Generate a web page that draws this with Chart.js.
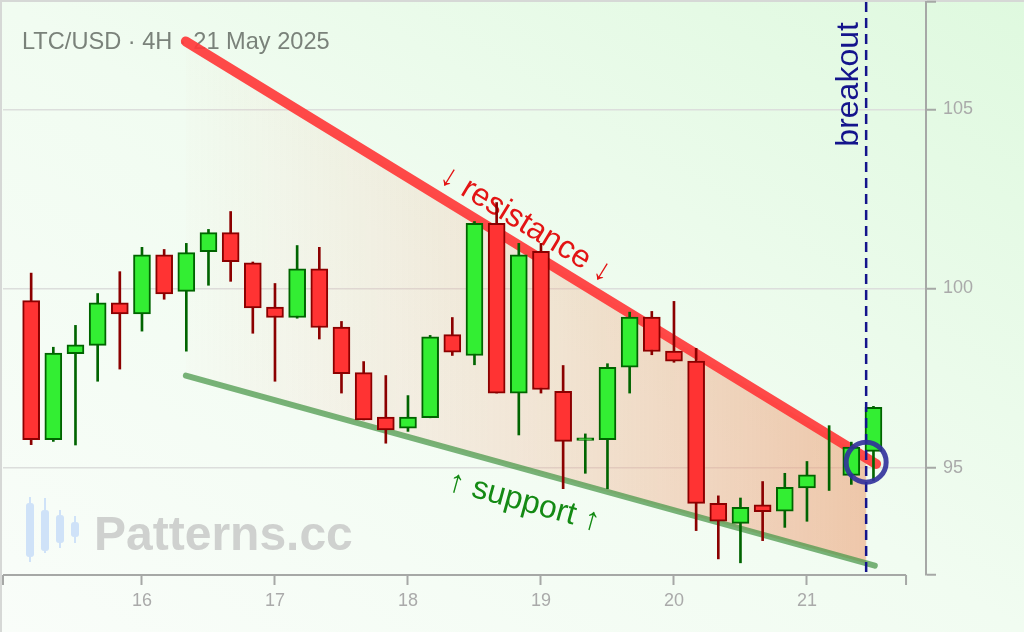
<!DOCTYPE html>
<html><head><meta charset="utf-8">
<script src="https://cdn.jsdelivr.net/npm/chart.js@4.4.1/dist/chart.umd.min.js"></script>
<style>
html,body{margin:0;padding:0;background:#fff;}
#wrap{position:relative;width:1024px;height:632px;background:linear-gradient(to top right,#f9fdf9 0%,#f1fcf1 50%,#dff9df 100%);box-shadow:inset 2px 2px 0 #d6d8d6;}
canvas{position:absolute;left:0;top:0;}
</style></head>
<body><div id="wrap"><canvas id="c" width="1024" height="632" style="width:1024px;height:632px"></canvas></div>
<script>
const candleTimes = [
 '15 04:00','15 08:00','15 12:00','15 16:00','15 20:00',
 '16 00:00','16 04:00','16 08:00','16 12:00','16 16:00','16 20:00',
 '17 00:00','17 04:00','17 08:00','17 12:00','17 16:00','17 20:00',
 '18 00:00','18 04:00','18 08:00','18 12:00','18 16:00','18 20:00',
 '19 00:00','19 04:00','19 08:00','19 12:00','19 16:00','19 20:00',
 '20 00:00','20 04:00','20 08:00','20 12:00','20 16:00','20 20:00',
 '21 00:00','21 04:00','21 08:00','21 12:00'];
const opens  = [99.66,95.78,98.18,98.41,99.60,99.29,100.94,99.92,101.03,101.56,100.72,99.48,99.19,100.55,98.92,97.65,96.41,96.10,96.39,98.71,98.13,101.82,97.08,101.04,97.13,95.76,95.78,97.80,99.20,98.25,97.97,94.00,93.44,93.96,93.78,94.43,94.85,94.78,95.45];
const highs  = [100.43,98.36,98.97,99.86,100.47,101.15,101.09,101.26,101.65,102.15,100.74,100.14,101.20,101.15,99.08,97.96,97.57,97.01,98.69,99.19,101.87,102.40,101.26,101.26,97.85,95.94,97.90,99.34,99.36,99.64,98.33,94.21,94.15,94.61,94.84,95.17,96.17,95.71,96.71];
const lows   = [95.64,95.73,95.63,97.41,97.75,98.81,99.70,98.25,100.09,100.20,98.75,97.41,99.17,98.59,97.08,96.33,95.68,96.01,96.39,98.13,97.87,97.08,95.91,97.08,94.41,94.84,94.41,97.08,98.15,97.94,93.24,92.45,92.34,92.96,93.33,93.50,94.36,94.53,94.64];
const closes = [95.78,98.20,98.43,99.60,99.29,100.94,99.85,101.00,101.56,100.75,99.46,99.19,100.55,98.91,97.62,96.33,96.05,96.41,98.65,98.22,101.82,97.08,100.94,97.18,95.73,95.83,97.80,99.20,98.24,97.97,94.00,93.50,93.89,93.77,94.45,94.80,94.85,95.57,96.68];

const xTickValues = [16,17,18,19,20,21];
const yTickValues = [92,95,100,105,108];
const yLabelValues = [95,100,105];
const xRange = [14.955, 21.895];
const yRange = [92, 108];
const xAxisEnd = 21.745;

const resistanceX = [16.33, 21.52];
const resistanceY = [106.90, 95.10];
const supportX = [16.33, 21.51];
const supportY = [97.57, 92.26];
const breakoutX = [21.445, 21.445];
const breakoutY = [108, 92];
const breakoutPoint = [{x:21.445, y:95.15}];

const titleText = 'LTC/USD · 4H · 21 May 2025';
const resistanceLabel = '↓ resistance ↓';
const supportLabel = '↑ support ↑';
const breakoutLabel = 'breakout';
const resistanceLabelPos = {x:18.887, y:101.79};
const supportLabelPos = {x:18.872, y:94.04};
const breakoutLabelPos = {x:21.34, y:105.7};

const FONT = '"Liberation Sans", Arial, Helvetica, sans-serif';
Chart.defaults.font.family = FONT;

function toDay(s){const [d,hm]=s.split(' ');const [h,m]=hm.split(':').map(Number);return Number(d)+(h+m/60)/24;}
const xs = candleTimes.map(toDay);
const isUp = closes.map((c,i)=>c>=opens[i]);
const edgeColors = isUp.map(u=>u?'#006400':'#8b0000');
const bodyColors = isUp.map(u=>u?'#33ee33':'#ff3333');
const wickData = xs.map((x,i)=>({x, y:[lows[i],highs[i]]}));
const bodyData = xs.map((x,i)=>({x, y: opens[i]===closes[i]?null:[opens[i],closes[i]]}));
const pts = (X,Y)=>X.map((x,i)=>({x,y:Y[i]}));

function fillGradient(ctx){
  const chart = ctx.chart;
  if(!chart.chartArea || !chart.scales.x) return 'rgba(0,0,0,0)';
  const sx = chart.scales.x;
  const x0 = sx.getPixelForValue(resistanceX[0]);
  const x1 = sx.getPixelForValue(breakoutX[0]);
  const g = chart.ctx.createLinearGradient(x0,0,x1+0.6,0);
  g.addColorStop(0,'rgba(245,170,150,0.02)');
  g.addColorStop(0.5,'rgba(240,160,125,0.24)');
  g.addColorStop(0.998,'rgba(236,155,112,0.55)');
  g.addColorStop(1,'rgba(236,155,112,0)');
  return g;
}

function rotatedText(ctx, text, px, py, angle, font, color){
  ctx.save();
  ctx.translate(px,py);
  ctx.rotate(angle);
  ctx.font = font;
  ctx.fillStyle = color;
  ctx.textAlign='center';
  ctx.textBaseline='middle';
  ctx.fillText(text,0,0);
  ctx.restore();
}
function lineAngle(chart,X,Y){
  const sx=chart.scales.x, sy=chart.scales.y;
  return Math.atan2(sy.getPixelForValue(Y[1])-sy.getPixelForValue(Y[0]), sx.getPixelForValue(X[1])-sx.getPixelForValue(X[0]));
}
function rr(ctx,x,y,w,h,r){ctx.beginPath();ctx.moveTo(x+r,y);ctx.lineTo(x+w-r,y);ctx.quadraticCurveTo(x+w,y,x+w,y+r);ctx.lineTo(x+w,y+h-r);ctx.quadraticCurveTo(x+w,y+h,x+w-r,y+h);ctx.lineTo(x+r,y+h);ctx.quadraticCurveTo(x,y+h,x,y+h-r);ctx.lineTo(x,y+r);ctx.quadraticCurveTo(x,y,x+r,y);ctx.closePath();ctx.fill();}

function noPad(s){s.paddingLeft=0;s.paddingRight=0;s.paddingTop=0;s.paddingBottom=0;}

const deco = {
  id:'deco',
  beforeDatasetsDraw(chart){
    const ctx = chart.ctx;
    ctx.save();
    ctx.font = '23.6px '+FONT;
    ctx.fillStyle = '#7a827a';
    ctx.textBaseline='alphabetic';
    ctx.textAlign='left';
    ctx.fillText(titleText, 22, 49);
    ctx.fillStyle = '#cfe2f8';
    const icon = [[30,497,562,503,557],[45,498,553,510,551],[60,510,548,515,543],[75,516,543,522,537]];
    icon.forEach(([cx,wt,wb,bt,bb])=>{ctx.fillRect(cx-1,wt,2,wb-wt);rr(ctx,cx-4,bt,8,bb-bt,3);});
    ctx.font = 'bold 48px '+FONT;
    ctx.fillStyle = '#cfd1cf';
    ctx.fillText('Patterns.cc', 94, 550);
    ctx.restore();
  },
  afterDatasetDraw(chart,args){
    if(args.index!==0) return;
    const ctx=chart.ctx, sx=chart.scales.x, sy=chart.scales.y;
    rotatedText(ctx,resistanceLabel,sx.getPixelForValue(resistanceLabelPos.x),sy.getPixelForValue(resistanceLabelPos.y),lineAngle(chart,resistanceX,resistanceY),'32px '+FONT,'#e31414');
    rotatedText(ctx,supportLabel,sx.getPixelForValue(supportLabelPos.x),sy.getPixelForValue(supportLabelPos.y),lineAngle(chart,supportX,supportY),'32px '+FONT,'#148a14');
  },
  afterDraw(chart){
    const ctx=chart.ctx, sx=chart.scales.x, sy=chart.scales.y, ca=chart.chartArea;
    ctx.save();
    ctx.strokeStyle='#a6a8a6'; ctx.lineWidth=2;
    const xe = sx.getPixelForValue(xAxisEnd);
    ctx.beginPath();
    ctx.moveTo(ca.left,ca.bottom); ctx.lineTo(xe,ca.bottom);
    ctx.moveTo(ca.left,ca.bottom); ctx.lineTo(ca.left,ca.bottom+10);
    ctx.moveTo(xe,ca.bottom); ctx.lineTo(xe,ca.bottom+10);
    ctx.stroke();
    ctx.restore();
    ctx.save();
    ctx.translate(858, sy.getPixelForValue(breakoutLabelPos.y));
    ctx.rotate(-Math.PI/2);
    ctx.font='32px '+FONT; ctx.fillStyle='#14148c';
    ctx.textAlign='center'; ctx.textBaseline='alphabetic';
    ctx.fillText(breakoutLabel,0,0);
    ctx.restore();
  }
};

new Chart(document.getElementById('c'),{
  type:'bar',
  data:{datasets:[
    {type:'line',data:pts(resistanceX,resistanceY),borderColor:'rgba(255,58,58,0.92)',borderWidth:10,borderCapStyle:'round',pointRadius:0,fill:{target:1},backgroundColor:fillGradient,order:8},
    {type:'line',data:pts(supportX,supportY),borderColor:'rgba(70,150,70,0.72)',borderWidth:6,borderCapStyle:'round',pointRadius:0,fill:false,order:9},
    {type:'bar',data:wickData,backgroundColor:edgeColors,borderWidth:0,barThickness:2,grouped:false,order:5},
    {type:'bar',data:bodyData,backgroundColor:bodyColors,borderColor:edgeColors,borderWidth:2,borderSkipped:false,barThickness:17,grouped:false,order:4},
    {type:'line',data:pts(breakoutX,breakoutY),borderColor:'#14148c',borderWidth:2.5,borderDash:[10,6],pointRadius:0,fill:false,order:2},
    {type:'line',data:breakoutPoint,showLine:false,pointRadius:20,pointHoverRadius:20,pointBorderWidth:5,pointBorderColor:'rgba(48,48,155,0.9)',pointBackgroundColor:'rgba(0,0,0,0)',order:1}
  ]},
  options:{
    responsive:false,animation:false,
    layout:{autoPadding:false,padding:{left:3,top:2,right:0,bottom:0}},
    plugins:{legend:{display:false},tooltip:{enabled:false},filler:{drawTime:'beforeDatasetsDraw'}},
    scales:{
      x:{type:'linear',min:xRange[0],max:xRange[1],offset:false,
         afterBuildTicks:s=>{s.ticks=xTickValues.map(v=>({value:v}));},
         afterFit:s=>{s.height=57;noPad(s);},
         border:{display:false},
         grid:{drawOnChartArea:false,drawTicks:true,tickLength:10,tickColor:'#a6a8a6',tickWidth:2,offset:false},
         ticks:{color:'#aaaaaa',font:{size:18},padding:5,autoSkip:false,maxRotation:0,callback:v=>String(v)}},
      y:{type:'linear',position:'right',min:yRange[0],max:yRange[1],
         afterBuildTicks:s=>{s.ticks=yTickValues.map(v=>({value:v}));},
         afterFit:s=>{s.width=98;noPad(s);},
         border:{display:true,color:'#a6a8a6',width:2},
         grid:{color:c=>yLabelValues.includes(c.tick&&c.tick.value)?'#dcdedc':'rgba(0,0,0,0)',lineWidth:1.5,tickLength:10,tickColor:'#a6a8a6',tickWidth:2},
         ticks:{color:'#aaaaaa',font:{size:18},padding:7,autoSkip:false,callback:v=>yLabelValues.includes(v)?String(v):''}}
    }
  },
  plugins:[deco]
});
</script></body></html>
